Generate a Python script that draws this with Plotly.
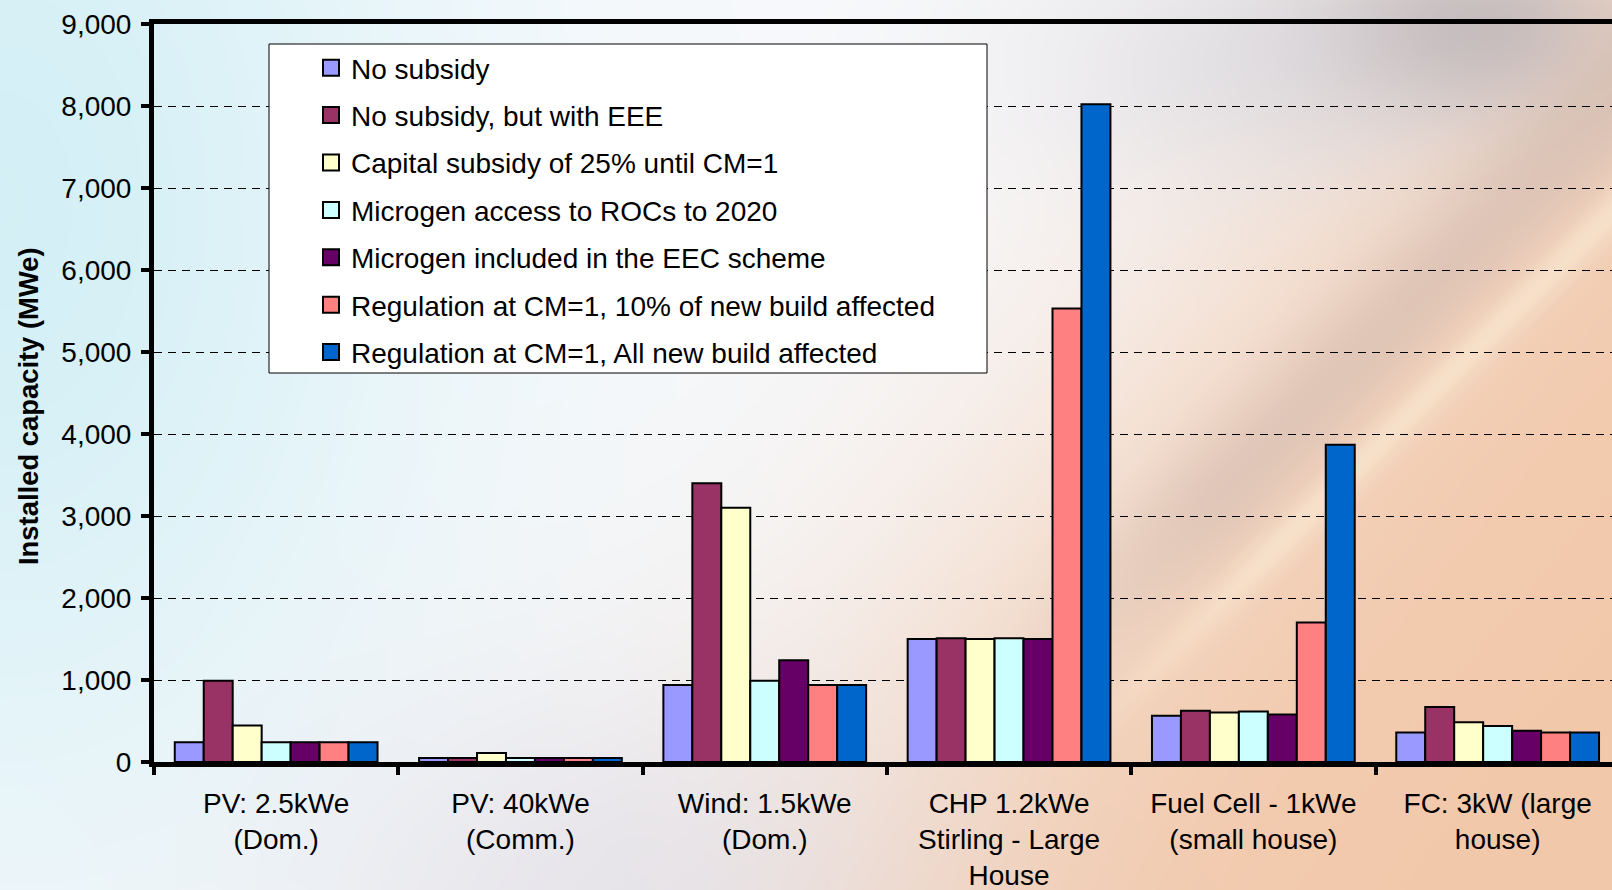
import base64
import struct
import zlib

import numpy as np
import plotly.graph_objects as go

# ---------------------------------------------------------------- data
categories = [
    "PV: 2.5kWe<br>(Dom.)",
    "PV: 40kWe<br>(Comm.)",
    "Wind: 1.5kWe<br>(Dom.)",
    "CHP 1.2kWe<br>Stirling - Large<br>House",
    "Fuel Cell - 1kWe<br>(small house)",
    "FC: 3kW (large<br>house)",
]

series_names = [
    "No subsidy",
    "No subsidy, but with EEE",
    "Capital subsidy of 25% until CM=1",
    "Microgen access to ROCs to 2020",
    "Microgen included in the EEC scheme",
    "Regulation at CM=1, 10% of new build affected",
    "Regulation at CM=1, All new build affected",
]

no_subsidy = [240, 50, 940, 1500, 565, 360]
no_subsidy_eee = [990, 50, 3400, 1510, 625, 670]
capital_subsidy = [445, 110, 3100, 1500, 605, 485]
rocs_access = [240, 50, 990, 1510, 615, 440]
eec_scheme = [240, 50, 1240, 1500, 578, 380]
regulation_10pct = [240, 50, 940, 5530, 1700, 360]
regulation_all = [240, 50, 940, 8020, 3870, 360]

series_values = [
    no_subsidy,
    no_subsidy_eee,
    capital_subsidy,
    rocs_access,
    eec_scheme,
    regulation_10pct,
    regulation_all,
]

series_colors = ["#9999FF", "#993366", "#FFFFCC", "#CCFFFF",
                 "#660066", "#FF8080", "#0066CC"]

y_ticks = list(range(0, 9001, 1000))
y_title = "Installed capacity (MWe)"

# ---------------------------------------------------------------- page geometry
W, H = 1612, 890
M_L, M_R, M_T, M_B = 154, 0, 24, 128
PW = W - M_L - M_R
PH = H - M_T - M_B
CAT_PX = 244.3  # width of one category slot in pixels


def px_to_paper_x(px):
    return (px - M_L) / PW


def px_to_paper_y(py):
    return 1 - (py - M_T) / PH


# ---------------------------------------------------------------- background
def make_background(w, h):
    X, Y = np.meshgrid(np.linspace(0, W, w), np.linspace(0, H, h))

    def lerp(c, col, wt):
        wt = np.clip(wt, 0, 1)[..., None]
        return c * (1 - wt) + np.array(col, float) * wt

    c = np.empty((h, w, 3))
    c[:] = (248, 250, 253)
    c = lerp(c, (212, 240, 246), np.exp(-(X / 430) ** 2 - ((Y - 200) / 650) ** 2))
    d = (X - 900) / 520 + (Y - 450) / 620
    c = lerp(c, (242, 200, 170), 1 / (1 + np.exp(-3.2 * (d - 0.45))))
    c = lerp(c, (226, 226, 236), 0.7 * np.exp(-((X - 620) / 320) ** 2 - ((Y - 900) / 210) ** 2))
    c = lerp(c, (214, 214, 222), 0.6 * np.exp(-((X - 1300) / 260) ** 2 - ((Y - 60) / 130) ** 2))
    c = lerp(c, (180, 172, 176), 0.65 * np.exp(-((X - 1480) / 150) ** 2 - ((Y - 25) / 90) ** 2))
    # soft diagonal streaks on the right
    p0 = np.array([1050.0, 760.0])
    p1 = np.array([1612.0, 200.0])
    v = (p1 - p0) / np.linalg.norm(p1 - p0)
    n = np.array([-v[1], v[0]])
    dist = (X - p0[0]) * n[0] + (Y - p0[1]) * n[1]
    along = (X - p0[0]) * v[0] + (Y - p0[1]) * v[1]
    fade = np.clip(along / 300, 0, 1)
    c = lerp(c, (205, 182, 172), 0.5 * fade * np.exp(-((dist + 70) / 55) ** 2))
    c = lerp(c, (252, 236, 214), 0.6 * fade * np.exp(-((dist - 10) / 18) ** 2))
    return np.clip(c, 0, 255).astype(np.uint8)


def png_data_uri(rgb):
    h, w, _ = rgb.shape
    raw = b"".join(b"\x00" + rgb[i].tobytes() for i in range(h))

    def chunk(tag, data):
        return (struct.pack(">I", len(data)) + tag + data
                + struct.pack(">I", zlib.crc32(tag + data) & 0xFFFFFFFF))

    png = (b"\x89PNG\r\n\x1a\n"
           + chunk(b"IHDR", struct.pack(">IIBBBBB", w, h, 8, 2, 0, 0, 0))
           + chunk(b"IDAT", zlib.compress(raw, 9))
           + chunk(b"IEND", b""))
    return "data:image/png;base64," + base64.b64encode(png).decode()


bg_uri = png_data_uri(make_background(W // 2, H // 2))

# ---------------------------------------------------------------- figure
FONT = "Liberation Sans, Arial, sans-serif"
fig = go.Figure()

for name, vals, col in zip(series_names, series_values, series_colors):
    fig.add_trace(go.Bar(
        x=categories, y=vals, name=name,
        marker=dict(color=col, line=dict(color="black", width=2)),
        showlegend=False,
    ))

# legend entries with larger square swatches
for name, col in zip(series_names, series_colors):
    fig.add_trace(go.Scatter(
        x=[None], y=[None], mode="markers", name=name, legendgroup=name,
        marker=dict(symbol="square", size=16, color=col,
                    line=dict(color="black", width=2)),
    ))

n_visible = (W - M_L) / CAT_PX
fig.update_layout(
    width=W, height=H,
    margin=dict(l=M_L, r=M_R, t=M_T, b=M_B, pad=0, autoexpand=False),
    paper_bgcolor="white",
    plot_bgcolor="rgba(0,0,0,0)",
    barmode="group", bargap=0.17, bargroupgap=0,
    font=dict(family=FONT, size=28, color="black"),
    images=[dict(
        source=bg_uri, xref="paper", yref="paper",
        x=-M_L / PW, y=1 + M_T / PH, sizex=W / PW, sizey=H / PH,
        xanchor="left", yanchor="top", sizing="stretch", layer="below",
    )],
    shapes=[dict(
        type="rect", xref="paper", yref="paper", layer="above",
        x0=px_to_paper_x(269), x1=px_to_paper_x(987),
        y0=px_to_paper_y(373), y1=px_to_paper_y(44),
        fillcolor="white", line=dict(color="black", width=1),
    )],
    annotations=[dict(
        text=f"<b>{y_title}</b>", xref="paper", yref="paper",
        x=px_to_paper_x(28), y=px_to_paper_y(406),
        xanchor="center", yanchor="middle", textangle=-90, showarrow=False,
        font=dict(family=FONT, size=27.4, color="black"),
    )],
    legend=dict(
        x=px_to_paper_x(311), y=px_to_paper_y(43),
        xanchor="left", yanchor="top",
        bgcolor="rgba(0,0,0,0)", borderwidth=0,
        font=dict(family=FONT, size=28, color="black"),
        tracegroupgap=8, itemclick=False, itemdoubleclick=False,
    ),
    xaxis=dict(
        type="category", range=[-0.5, n_visible - 0.5], automargin=False,
        showline=True, linecolor="black", linewidth=5, mirror=True,
        ticks="outside", tickson="boundaries", ticklen=8, tickwidth=4,
        tickcolor="black", showgrid=False, ticklabelstandoff=12,
        tickfont=dict(family=FONT, size=28),
    ),
    yaxis=dict(
        range=[0, 9000], tickvals=y_ticks, automargin=False,
        ticktext=[f"{v:,}" for v in y_ticks],
        showline=True, linecolor="black", linewidth=5,
        ticks="outside", ticklen=8, tickwidth=4, tickcolor="black",
        showgrid=True, gridcolor="black", gridwidth=1, griddash="8px,6px",
        zeroline=False, ticklabelstandoff=4,
        tickfont=dict(family=FONT, size=28),
    ),
)

fig.write_html("out.html")
